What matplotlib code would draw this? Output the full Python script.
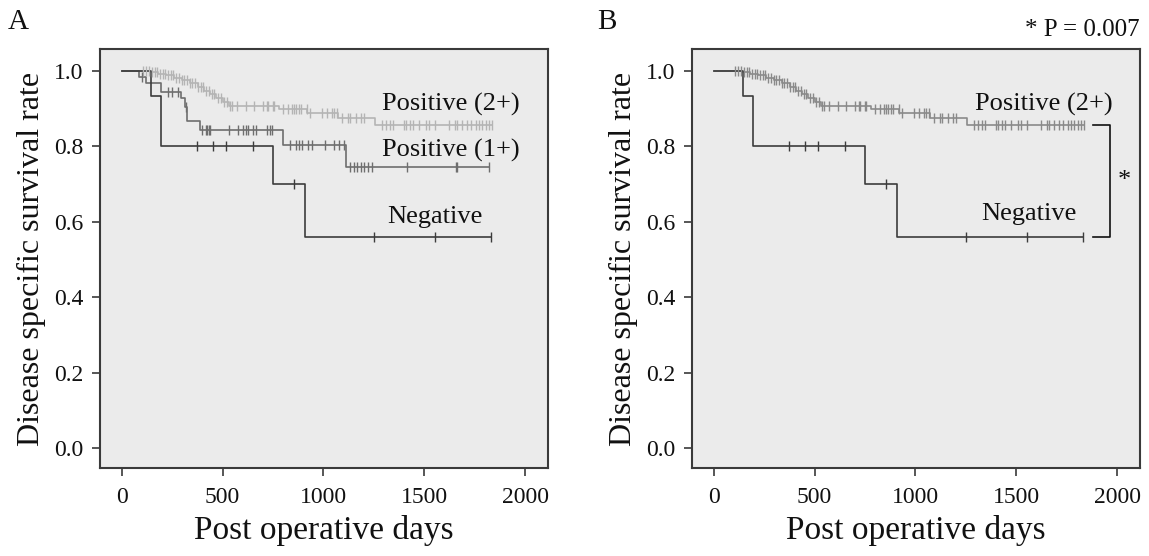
import numpy as np
import matplotlib
matplotlib.use("Agg")
import matplotlib.pyplot as plt

plt.rcParams['font.family'] = ['Liberation Serif', 'DejaVu Serif']

# ---------------- data ----------------
neg_days = [0, 147, 193, 748, 910, 1832]
neg_surv = [1.0, 0.933, 0.80, 0.70, 0.56, 0.56]
neg_cens = [371, 455, 515, 649, 856, 1248, 1550, 1832]

pos1_days = [0, 85, 122, 196, 295, 312, 323, 386, 797, 1113, 1822]
pos1_surv = [1.0, 0.983, 0.967, 0.943, 0.927, 0.905, 0.866, 0.843, 0.804, 0.745, 0.745]
pos1_cens = [100, 228, 252, 277, 318, 400, 416, 421, 431, 436, 530, 579, 599, 614,
             624, 649, 668, 718, 733, 743, 832, 866, 881, 896, 921, 941, 1005, 1054,
             1079, 1104, 1129, 1153, 1168, 1188, 1203, 1218, 1238, 1416, 1658, 1663, 1822]

pos2_days = [0, 140, 180, 220, 260, 300, 340, 380, 410, 440, 470, 500, 530, 780,
             920, 1070, 1255, 1837]
pos2_surv = [1.0, 0.997, 0.993, 0.988, 0.982, 0.975, 0.968, 0.958, 0.947, 0.938,
             0.928, 0.918, 0.908, 0.898, 0.888, 0.876, 0.856, 0.856]
pos2_cens = [105, 120, 135, 150, 165, 175, 190, 205, 215, 230, 245, 255, 270, 285,
             300, 310, 325, 340, 350, 365, 380, 395, 405, 420, 435, 450, 460, 475,
             490, 505, 520, 535, 545, 574, 618, 658, 698, 718, 723, 748, 757, 797,
             822, 842, 856, 866, 881, 891, 916, 931, 995, 1015, 1040, 1054, 1069,
             1094, 1119, 1129, 1163, 1188, 1203, 1292, 1312, 1327, 1342, 1401, 1411,
             1426, 1441, 1475, 1510, 1525, 1550, 1624, 1649, 1663, 1688, 1713, 1733,
             1757, 1772, 1787, 1807, 1822, 1837]

x_ticks = [0, 500, 1000, 1500, 2000]
y_ticks = [0.0, 0.2, 0.4, 0.6, 0.8, 1.0]
y_ticklabels = ["0.0", "0.2", "0.4", "0.6", "0.8", "1.0"]

# ---------------- figure ----------------
W, H = 1149, 556
fig = plt.figure(figsize=(W / 100, H / 100), dpi=100)
fig.patch.set_facecolor('white')

ax_w = (548 - 100) / W
ax_h = (468 - 49) / H
ax_b = 1 - 468 / H
axA = fig.add_axes([100 / W, ax_b, ax_w, ax_h])
axB = fig.add_axes([692 / W, ax_b, ax_w, ax_h])

spine_col = '#3a3a3a'


def km(ax, days, surv, cens, color):
    ax.step(days, surv, where='post', color=color, lw=1.2, zorder=3)
    d = np.asarray(days)
    s = np.asarray(surv)
    c = np.asarray(cens)
    idx = np.searchsorted(d, c, side='right') - 1
    ax.plot(c, s[idx], ls='none', marker='|', ms=7, mew=1.0, color=color, zorder=4)


for ax in (axA, axB):
    ax.set_facecolor('#ebebeb')
    ax.set_xlim(-107, 2112)
    ax.set_ylim(-0.053, 1.058)
    ax.set_xticks(x_ticks)
    ax.set_xticklabels([str(v) for v in x_ticks])
    ax.set_yticks(y_ticks)
    ax.set_yticklabels(y_ticklabels)
    for sp in ax.spines.values():
        sp.set_color(spine_col)
        sp.set_linewidth(1.5)
    ax.tick_params(axis='both', direction='out', length=6, width=1.2,
                   color=spine_col, labelsize=17, labelcolor='#111111')
    ax.tick_params(axis='y', pad=6)
    ax.tick_params(axis='x', pad=8)
    ax.set_xlabel('Post operative days', fontsize=24, color='#111111', labelpad=5)
    ax.set_ylabel('Disease specific survival rate', fontsize=23, color='#111111',
                  labelpad=6)

# Panel A
km(axA, pos2_days, pos2_surv, pos2_cens, '#b4b4b4')
km(axA, pos1_days, pos1_surv, pos1_cens, '#6e6e6e')
km(axA, neg_days, neg_surv, neg_cens, '#3c3c3c')
axA.text(1292, 0.912, 'Positive (2+)', fontsize=19, va='center', ha='left', color='#111111')
axA.text(1292, 0.790, 'Positive (1+)', fontsize=19, va='center', ha='left', color='#111111')
axA.text(1317, 0.613, 'Negative', fontsize=19, va='center', ha='left', color='#111111')

# Panel B
km(axB, pos2_days, pos2_surv, pos2_cens, '#8a8a8a')
km(axB, neg_days, neg_surv, neg_cens, '#3c3c3c')
axB.text(1297, 0.912, 'Positive (2+)', fontsize=19, va='center', ha='left', color='#111111')
axB.text(1327, 0.620, 'Negative', fontsize=19, va='center', ha='left', color='#111111')

# significance bracket
bx0, bx1 = 1880, 1965
axB.plot([bx0, bx1, bx1, bx0], [pos2_surv[-1], pos2_surv[-1], neg_surv[-1], neg_surv[-1]],
         color='#111111', lw=1.2, clip_on=False, zorder=5)
axB.text(2035, (pos2_surv[-1] + neg_surv[-1]) / 2, '*', fontsize=19, ha='center',
         va='center', color='#111111', clip_on=False)

# panel letters and p-value
fig.text(8 / W, 1 - 22 / H, 'A', fontsize=21, ha='left', va='center', color='#111111')
fig.text(597 / W, 1 - 22 / H, 'B', fontsize=21, ha='left', va='center', color='#111111')
fig.text(1140 / W, 1 - 30 / H, '* P = 0.007', fontsize=18, ha='right', va='center',
         color='#111111')

fig.savefig('out.png', dpi=100)
